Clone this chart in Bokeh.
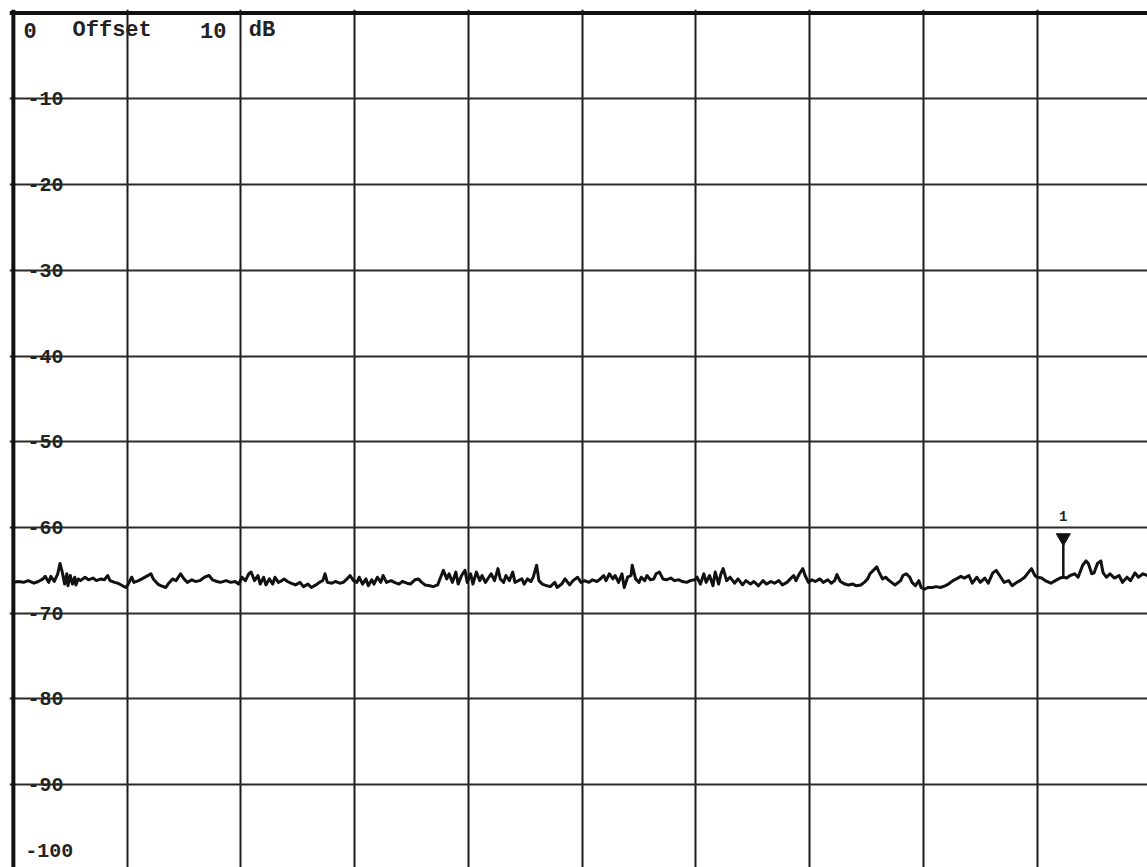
from bokeh.plotting import figure
from bokeh.models import Range1d, Grid, FixedTicker, Span, ColumnDataSource
from bokeh.core.properties import value
from bokeh.embed import file_html
from bokeh.resources import INLINE

# ---------------- data ----------------
db_ticks = [0, -10, -20, -30, -40, -50, -60, -70, -80, -90, -100]
div_ticks = [0, 1, 2, 3, 4, 5, 6, 7, 8, 9, 10]
y_label_text = ["-10", "-20", "-30", "-40", "-50", "-60", "-70", "-80", "-90"]
y_label_db = [-10, -20, -30, -40, -50, -60, -70, -80, -90]
bottom_label = ["-100"]
header_words = ["0", "Offset", "10", "dB"]
header_x = [0.09, 0.52, 1.64, 2.07]

# trace: x in screen divisions, level in dB
trace_x = [
    0.00, 0.04, 0.09, 0.13, 0.18, 0.22, 0.26, 0.28, 0.31, 0.33,
    0.36, 0.39, 0.41, 0.43, 0.45, 0.47, 0.48, 0.50, 0.52, 0.54,
    0.55, 0.57, 0.59, 0.63, 0.66, 0.70, 0.73, 0.77, 0.80, 0.83,
    0.85, 0.89, 0.92, 0.96, 0.99, 1.01, 1.04, 1.06, 1.10, 1.13,
    1.17, 1.21, 1.23, 1.27, 1.30, 1.34, 1.36, 1.40, 1.43, 1.47,
    1.50, 1.53, 1.57, 1.60, 1.64,
    1.68, 1.72, 1.75, 1.79, 1.82, 1.87, 1.91, 1.95, 1.98, 2.01,
    2.04, 2.07, 2.09, 2.12, 2.15, 2.17, 2.20, 2.22, 2.25, 2.28,
    2.30, 2.33, 2.36, 2.38, 2.41, 2.44, 2.48, 2.52, 2.55, 2.59,
    2.62, 2.66, 2.69, 2.72, 2.74, 2.76, 2.80, 2.83, 2.87, 2.90,
    2.94, 2.96, 2.99, 3.02, 3.04, 3.07, 3.10, 3.12, 3.15, 3.17,
    3.20, 3.23, 3.25, 3.28, 3.32,
    3.35, 3.39, 3.42, 3.46, 3.49, 3.53, 3.56, 3.59, 3.62, 3.66,
    3.69, 3.73, 3.75, 3.78, 3.81, 3.83, 3.86, 3.89, 3.91, 3.94,
    3.97, 3.99, 4.02, 4.04, 4.07, 4.10, 4.12, 4.15, 4.18, 4.20,
    4.23, 4.26, 4.28, 4.31, 4.33, 4.36, 4.39, 4.41, 4.44, 4.47,
    4.49, 4.52, 4.55, 4.57, 4.60, 4.62, 4.65, 4.69, 4.72, 4.76,
    4.78, 4.82, 4.85, 4.89, 4.92, 4.96, 4.99,
    5.02, 5.06, 5.09, 5.13, 5.16, 5.19, 5.21, 5.24, 5.27, 5.29,
    5.32, 5.35, 5.37, 5.40, 5.43, 5.44, 5.47, 5.50, 5.52, 5.55,
    5.57, 5.60, 5.63, 5.65, 5.68, 5.71, 5.74, 5.78, 5.81, 5.85,
    5.88, 5.92, 5.95, 5.99, 6.01, 6.04, 6.07, 6.09, 6.12, 6.15,
    6.17, 6.20, 6.22, 6.24, 6.27, 6.30, 6.34, 6.37, 6.41, 6.44,
    6.48, 6.51, 6.55, 6.59, 6.62, 6.66,
    6.69, 6.73, 6.76, 6.80, 6.83, 6.86, 6.88, 6.91, 6.94, 6.96,
    6.99, 7.02, 7.05, 7.09, 7.12, 7.16, 7.19, 7.22, 7.24, 7.27,
    7.31, 7.34, 7.38, 7.41, 7.45, 7.48, 7.51, 7.53, 7.56, 7.59,
    7.61, 7.64, 7.67, 7.69, 7.72, 7.75, 7.77, 7.80, 7.82, 7.85,
    7.88, 7.90, 7.93, 7.96, 7.98, 8.01, 8.04, 8.08, 8.11, 8.15,
    8.19, 8.22, 8.26, 8.29, 8.33,
    8.36, 8.40, 8.43, 8.47, 8.50, 8.54, 8.57, 8.61, 8.64, 8.68,
    8.71, 8.75, 8.78, 8.82, 8.85, 8.89, 8.92, 8.95, 8.98, 9.00,
    9.04, 9.07, 9.12, 9.16, 9.20, 9.23, 9.26, 9.29, 9.33, 9.36,
    9.40, 9.43, 9.45, 9.48, 9.50, 9.53, 9.56, 9.58, 9.61, 9.64,
    9.68, 9.72, 9.75, 9.79, 9.82, 9.86, 9.89, 9.93, 9.97,
]
trace_db = [
    -66.4, -66.3, -66.4, -66.2, -66.5, -66.3, -66.0, -65.7, -66.4, -65.7,
    -66.3, -65.4, -64.2, -65.2, -66.6, -65.4, -66.8, -65.6, -66.6, -65.8,
    -66.7, -66.0, -66.2, -65.8, -66.1, -65.9, -66.2, -66.0, -66.1, -65.6,
    -66.2, -66.4, -66.5, -66.8, -67.0, -66.6, -65.8, -66.4, -66.2, -66.0,
    -65.7, -65.4, -66.0, -66.6, -66.8, -67.0, -66.6, -66.0, -66.2, -65.4,
    -66.0, -66.4, -66.1, -66.3, -66.2,
    -65.8, -65.6, -66.1, -66.3, -66.4, -66.2, -66.4, -66.3, -66.6, -65.8,
    -66.2, -65.4, -65.2, -66.2, -65.6, -66.6, -65.8, -66.7, -66.0, -66.6,
    -65.8, -66.4, -66.2, -66.0, -66.3, -66.5, -66.7, -66.4, -66.9, -66.6,
    -67.0, -66.7, -66.4, -66.2, -65.4, -66.4, -66.5, -66.3, -66.5, -66.4,
    -65.9, -65.6, -66.2, -66.4, -65.8, -66.6, -66.0, -66.8, -66.1, -66.6,
    -65.8, -66.4, -65.6, -66.4, -66.2,
    -66.4, -66.6, -66.3, -66.5, -66.6, -66.1, -66.0, -66.4, -66.7, -66.8,
    -66.9, -66.7, -66.0, -65.0, -66.0, -65.4, -66.4, -65.2, -66.6, -65.6,
    -65.0, -66.4, -65.4, -66.6, -65.2, -66.2, -65.6, -66.4, -65.8, -65.4,
    -66.2, -64.8, -66.0, -66.4, -65.6, -66.2, -65.2, -66.4, -66.2, -66.0,
    -66.6, -66.0, -66.3, -65.8, -64.4, -66.2, -66.6, -66.8, -66.9, -66.4,
    -67.0, -66.6, -66.0, -66.7, -66.2, -65.8, -66.4,
    -66.2, -66.4, -66.1, -66.3, -66.0, -65.6, -66.2, -65.4, -66.0, -65.6,
    -66.4, -65.4, -67.0, -65.8, -65.6, -64.4, -66.0, -66.4, -65.8, -66.2,
    -65.6, -66.1, -66.0, -65.4, -65.2, -66.0, -66.1, -65.9, -66.2, -66.1,
    -66.3, -66.4, -66.2, -66.1, -65.8, -66.6, -65.4, -66.4, -65.6, -66.8,
    -65.2, -66.6, -65.4, -64.8, -66.2, -65.8, -66.5, -66.0, -66.7, -66.2,
    -66.6, -66.3, -66.8, -66.2, -66.6, -66.3,
    -66.5, -66.2, -66.7, -66.4, -66.0, -65.6, -66.2, -65.4, -64.8, -65.6,
    -66.4, -66.1, -66.3, -66.0, -66.4, -66.1, -66.5, -66.2, -65.5, -66.3,
    -66.6, -66.7, -66.6, -66.8, -66.7, -66.4, -66.0, -65.4, -65.0, -64.6,
    -65.2, -66.0, -65.8, -66.1, -66.4, -66.7, -66.5, -66.2, -65.6, -65.4,
    -65.8, -66.4, -66.8, -66.2, -67.0, -67.2, -67.0, -67.0, -66.9, -67.0,
    -66.8, -66.6, -66.2, -66.0, -65.7,
    -65.9, -65.6, -66.5, -65.8, -66.4, -65.9, -66.5, -65.3, -65.0, -65.8,
    -66.4, -66.2, -66.8, -66.4, -66.2, -65.8, -65.3, -64.8, -65.6, -65.8,
    -65.9, -66.2, -66.5, -66.2, -65.9, -65.8, -65.9, -65.6, -65.4, -65.8,
    -64.4, -63.9, -64.2, -65.4, -65.3, -64.2, -63.9, -65.3, -65.8, -65.4,
    -65.9, -65.6, -66.4, -65.8, -66.2, -65.3, -65.8, -65.4, -65.6,
]

marker_x = [9.23]
marker_db = [-65.8]
marker_label = ["1"]

# ---------------- figure ----------------
W, H = 1147, 867
p = figure(width=W, height=H, output_backend="svg", toolbar_location=None,
           x_axis_location=None, y_axis_location=None,
           x_range=Range1d(-0.034, 9.970), y_range=Range1d(-99.66, 0.42),
           min_border_left=9, min_border_top=9, min_border_right=0, min_border_bottom=0)
p.outline_line_color = None
p.background_fill_color = "#ffffff"
p.border_fill_color = "#ffffff"
p.xgrid.visible = False
p.ygrid.visible = False

vgrid = Grid(dimension=0, ticker=FixedTicker(ticks=div_ticks[1:]),
             grid_line_color="#1c1c1c", grid_line_width=2)
hgrid = Grid(dimension=1, ticker=FixedTicker(ticks=db_ticks[1:]),
             grid_line_color="#2a2a2a", grid_line_width=1.8)
p.add_layout(vgrid)
p.add_layout(hgrid)

# thick frame edges (left and top)
p.add_layout(Span(location=div_ticks[0], dimension="height", line_color="#111111", line_width=4))
p.add_layout(Span(location=db_ticks[0], dimension="width", line_color="#111111", line_width=4))

mono = value("Liberation Mono")

# level labels inside the graticule
p.text(x=[0.44] * len(y_label_db), y=y_label_db, text=y_label_text,
       text_font=mono, text_font_style="bold", text_font_size="20px",
       text_color="#222222", text_align="right", text_baseline="middle")
p.text(x=[0.105], y=[db_ticks[-1] + 2.3], text=bottom_label,
       text_font=mono, text_font_style="bold", text_font_size="20px",
       text_color="#222222", text_align="left", text_baseline="middle")

# header line
p.text(x=header_x, y=[-2.0] * len(header_words), text=header_words,
       text_font=mono, text_font_style="bold", text_font_size="22px",
       text_color="#222222", text_align="left", text_baseline="middle")

# trace
p.line(trace_x, trace_db, line_color="#111111", line_width=3, line_join="round")

# marker 1: stem, triangle, label
mk = ColumnDataSource(dict(x=marker_x, y=marker_db,
                           tip=[v + 3.9 for v in marker_db],
                           tri=[v + 4.6 for v in marker_db],
                           lab=[v + 7.1 for v in marker_db],
                           t=marker_label))
p.segment(x0="x", y0="y", x1="x", y1="tip", source=mk, line_color="#111111", line_width=2.5)
p.scatter(x="x", y="tri", source=mk, marker="inverted_triangle", size=14,
          fill_color="#111111", line_color="#111111")
p.text(x="x", y="lab", text="t", source=mk, text_font=mono, text_font_style="bold",
       text_font_size="14px", text_color="#222222", text_align="center", text_baseline="middle")

open("out.html", "w").write(file_html(p, INLINE))
